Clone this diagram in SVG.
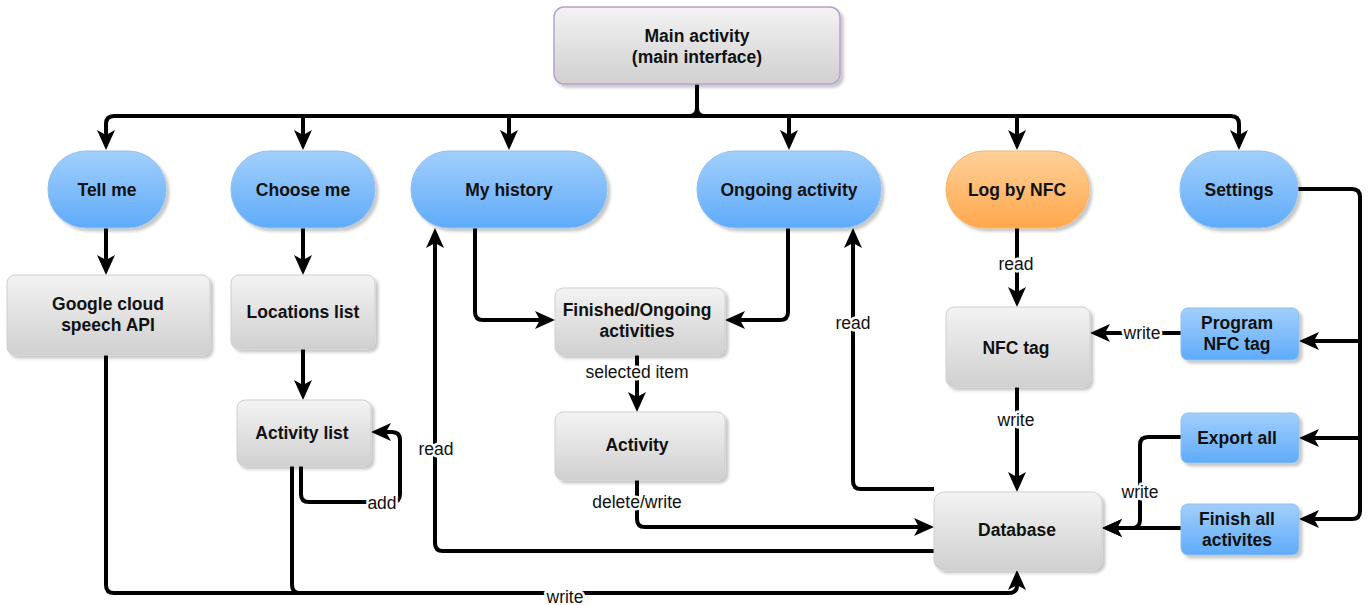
<svg xmlns="http://www.w3.org/2000/svg" width="1368" height="605" viewBox="0 0 1368 605">
<defs>
<linearGradient id="gGray" x1="0" y1="0" x2="0" y2="1"><stop offset="0" stop-color="#f3f3f3"/><stop offset="1" stop-color="#d0d0d0"/></linearGradient>
<linearGradient id="gBlue" x1="0" y1="0" x2="0" y2="1"><stop offset="0" stop-color="#a2cffb"/><stop offset="1" stop-color="#5fabfa"/></linearGradient>
<linearGradient id="gOrange" x1="0" y1="0" x2="0" y2="1"><stop offset="0" stop-color="#ffd09a"/><stop offset="1" stop-color="#ffa84c"/></linearGradient>
<filter id="sh" x="-10%" y="-10%" width="130%" height="140%"><feDropShadow dx="3" dy="3" stdDeviation="1.5" flood-color="#000" flood-opacity="0.22"/></filter>
<marker id="arr" viewBox="0 0 20 20" refX="10" refY="10" markerWidth="20" markerHeight="20" markerUnits="userSpaceOnUse" orient="auto"><path d="M0,1 L20,10 L0,19 L5,10 Z" fill="#000"/></marker>
</defs>
<style>
.gray{fill:url(#gGray);stroke:#cfcfcf;stroke-width:1;filter:url(#sh)}
.blue{fill:url(#gBlue);stroke:#8fc0f0;stroke-width:1;filter:url(#sh)}
.orange{fill:url(#gOrange);stroke:#f5b36a;stroke-width:1;filter:url(#sh)}
.main{fill:url(#gGray);stroke:#b7a1cc;stroke-width:1.5;filter:url(#sh)}
.t{font-family:"Liberation Sans",Arial,sans-serif;font-weight:bold;font-size:17.5px;fill:#111;text-anchor:middle}
.c{fill:none;stroke:#000;stroke-width:4}
.a{marker-end:url(#arr)}
.l{font-family:"Liberation Sans",Arial,sans-serif;font-size:17.5px;fill:#111;text-anchor:middle;stroke:#fff;stroke-width:5;paint-order:stroke;stroke-linejoin:round}
</style>
<rect width="1368" height="605" fill="#fff"/>

<g id="connectors">
<path class="c" d="M697,84 L697,108 Q697,116 689,116 M697,108 Q697,116 705,116"/>
<path class="c a" d="M1000,116 L1231,116 Q1239,116 1239,124 L1239,140"/>
<path class="c a" d="M400,116 L114,116 Q106,116 106,124 L106,140"/>
<path class="c" d="M390,116 L1010,116"/>
<path class="c a" d="M303,116 L303,140"/>
<path class="c a" d="M509,116 L509,140"/>
<path class="c a" d="M789,116 L789,140"/>
<path class="c a" d="M1017,116 L1017,140"/>
<path class="c a" d="M106,228 L106,265"/>
<path class="c a" d="M303,228 L303,265"/>
<path class="c a" d="M303,349 L303,390"/>
<path class="c" d="M106,355 L106,585 Q106,593 114,593 L1009,593 Q1017,593 1017,585 L1017,580" />
<path class="c a" d="M1017,585 L1017,580"/>
<path class="c" d="M292,466 L292,585 Q292,593 300,593"/>
<path class="c a" d="M301,466 L301,494 Q301,502 309,502 L392,502 Q400,502 400,494 L400,440 Q400,432 392,432 L381,432"/>
<path class="c a" d="M475,228 L475,312 Q475,320 483,320 L545,320"/>
<path class="c a" d="M788,228 L788,312 Q788,320 780,320 L735,320"/>
<path class="c a" d="M637,355 L637,402"/>
<path class="c a" d="M637,480 L637,519 Q637,527 645,527 L924,527"/>
<path class="c a" d="M934,551 L443,551 Q435,551 435,543 L435,238"/>
<path class="c a" d="M934,489 L861,489 Q853,489 853,481 L853,238"/>
<path class="c a" d="M1017,228 L1017,297"/>
<path class="c a" d="M1017,387 L1017,482"/>
<path class="c a" d="M1181,333 L1100,333"/>
<path class="c a" d="M1298,189 L1352,189 Q1360,189 1360,197 L1360,511 Q1360,519 1352,519 L1309,519"/>
<path class="c a" d="M1360,341 L1309,341"/>
<path class="c a" d="M1360,438 L1309,438"/>
<path class="c a" d="M1181,437 L1148,437 Q1140,437 1140,445 L1140,520 Q1140,528 1132,528 L1112,528"/>
<path class="c a" d="M1181,528 L1112,528"/>
<text class="l" x="565" y="603">write</text>
<text class="l" x="382" y="509">add</text>
<text class="l" x="637" y="378">selected item</text>
<text class="l" x="637" y="508">delete/write</text>
<text class="l" x="436" y="455">read</text>
<text class="l" x="853" y="329">read</text>
<text class="l" x="1016" y="270">read</text>
<text class="l" x="1016" y="426">write</text>
<text class="l" x="1142" y="339">write</text>
<text class="l" x="1140" y="498">write</text>
</g>

<g id="main"><rect class="main" x="554" y="7" width="286" height="77" rx="10"/><text class="t" x="697" y="42">Main activity</text><text class="t" x="697" y="63">(main interface)</text></g>
<g id="tellme"><rect class="blue" x="48" y="151" width="118" height="77" rx="38"/><text class="t" x="107" y="196">Tell me</text></g>
<g id="chooseme"><rect class="blue" x="231" y="151" width="144" height="77" rx="38"/><text class="t" x="303" y="196">Choose me</text></g>
<g id="myhistory"><rect class="blue" x="411" y="151" width="196" height="77" rx="38"/><text class="t" x="509" y="196">My history</text></g>
<g id="ongoing"><rect class="blue" x="697" y="151" width="184" height="77" rx="38"/><text class="t" x="789" y="196">Ongoing activity</text></g>
<g id="lognfc"><rect class="orange" x="946" y="151" width="143" height="77" rx="38"/><text class="t" x="1017" y="196">Log by NFC</text></g>
<g id="settings"><rect class="blue" x="1180" y="151" width="118" height="77" rx="38"/><text class="t" x="1239" y="196">Settings</text></g>
<g id="google"><rect class="gray" x="7" y="275" width="203" height="80" rx="8"/><text class="t" x="108" y="310">Google cloud</text><text class="t" x="108" y="331">speech API</text></g>
<g id="locations"><rect class="gray" x="231" y="275" width="144" height="74" rx="8"/><text class="t" x="303" y="318">Locations list</text></g>
<g id="activitylist"><rect class="gray" x="237" y="400" width="134" height="66" rx="8"/><text class="t" x="302" y="439">Activity list</text></g>
<g id="finished"><rect class="gray" x="555" y="288" width="170" height="67" rx="8"/><text class="t" x="637" y="316">Finished/Ongoing</text><text class="t" x="637" y="337">activities</text></g>
<g id="activity"><rect class="gray" x="555" y="412" width="170" height="68" rx="8"/><text class="t" x="637" y="451">Activity</text></g>
<g id="database"><rect class="gray" x="934" y="492" width="168" height="78" rx="10"/><text class="t" x="1017" y="536">Database</text></g>
<g id="nfctag"><rect class="gray" x="946" y="307" width="144" height="80" rx="8"/><text class="t" x="1016" y="354">NFC tag</text></g>
<g id="program"><rect class="blue" x="1181" y="308" width="118" height="52" rx="7"/><text class="t" x="1237" y="329">Program</text><text class="t" x="1237" y="350">NFC tag</text></g>
<g id="export"><rect class="blue" x="1181" y="413" width="118" height="50" rx="7"/><text class="t" x="1237" y="444">Export all</text></g>
<g id="finishall"><rect class="blue" x="1181" y="504" width="118" height="51" rx="7"/><text class="t" x="1237" y="525">Finish all</text><text class="t" x="1237" y="546">activites</text></g>
</svg>
